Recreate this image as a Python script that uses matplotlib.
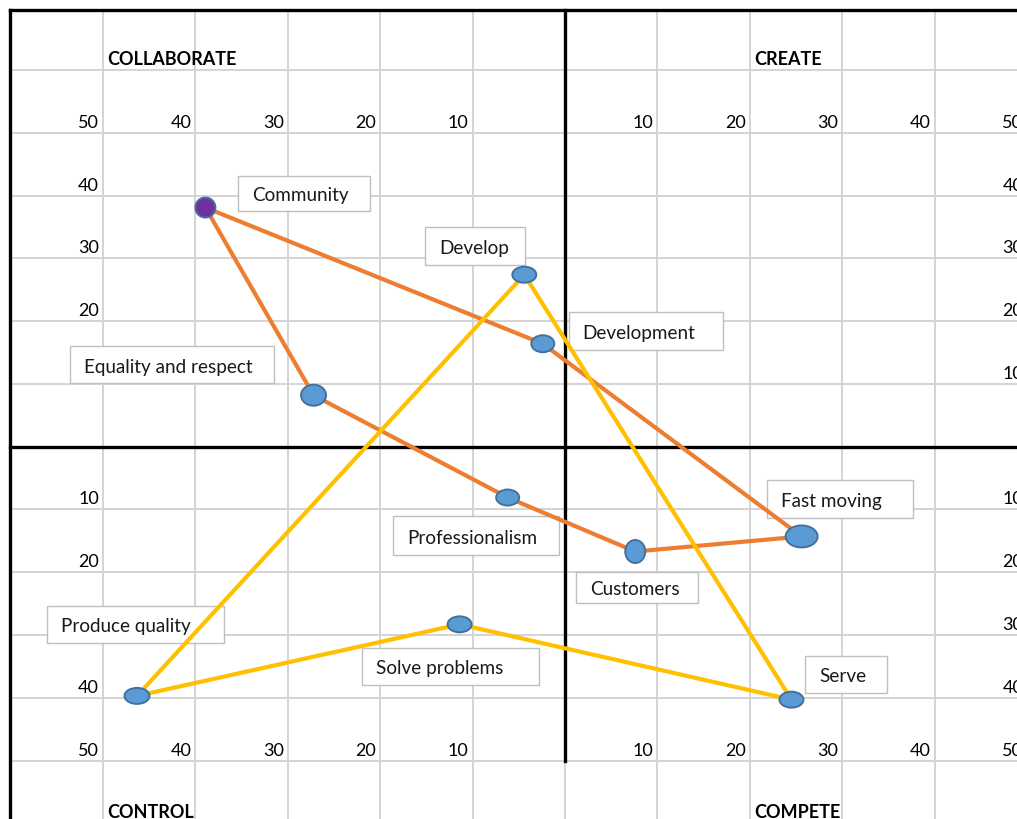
import matplotlib
matplotlib.use('Agg')
import matplotlib.pyplot as plt
from matplotlib.patches import Ellipse, Rectangle
from matplotlib.transforms import offset_copy

plt.rcParams['font.family'] = ['Lato', 'DejaVu Sans']

# --- data (units of the quadrant grid) ---
orange_names = ['Community', 'Development', 'Fast moving', 'Customers',
                'Professionalism', 'Equality and respect']
orange_x = [-38.9, -2.4, 25.6, 7.6, -6.2, -27.2]
orange_y = [38.1, 16.4, -14.3, -16.7, -8.1, 8.2]

yellow_names = ['Produce quality', 'Develop', 'Serve', 'Solve problems']
yellow_x = [-46.3, -4.4, 24.5, -11.4]
yellow_y = [-39.7, 27.4, -40.3, -28.3]

quadrants = ['COLLABORATE', 'CREATE', 'CONTROL', 'COMPETE']
tick_values = [10, 20, 30, 40, 50]

# --- layout / style ---
W, H = 1017, 820
XMIN, XMAX = -61.12, 48.90
YMIN, YMAX = -59.31, 71.32
TOP = 69.5
LEFT = -60

# marker size in pixels (width, height)
marker_px = {
    'Community': (20, 20), 'Development': (23, 17), 'Fast moving': (32, 22),
    'Customers': (20, 23), 'Professionalism': (23, 16),
    'Equality and respect': (25, 21), 'Produce quality': (25, 16),
    'Develop': (24, 16), 'Serve': (24, 16), 'Solve problems': (24, 16),
}
# label boxes (left, bottom, width, height) in chart units
label_box = {
    'Community': (-35.4, 37.6, 14.3, 5.5),
    'Develop': (-15.1, 29.0, 10.8, 6.0),
    'Development': (0.4, 15.4, 16.7, 6.0),
    'Equality and respect': (-53.6, 10.1, 22.1, 5.9),
    'Fast moving': (21.9, -11.3, 15.7, 6.0),
    'Professionalism': (-18.6, -17.2, 17.9, 6.1),
    'Customers': (1.2, -24.9, 13.2, 5.0),
    'Produce quality': (-56.0, -31.2, 19.1, 5.8),
    'Solve problems': (-22.0, -38.0, 19.2, 6.0),
    'Serve': (26.0, -39.2, 8.8, 5.9),
}
# left-hand row numbers that sit under a label box in the original
hidden_left = [10, -30]

ORANGE = '#ED7D31'
YELLOW = '#FFC000'
GRID = '#D4D4D4'

fig = plt.figure(figsize=(W / 100, H / 100), dpi=100)
ax = fig.add_axes([0, 0, 1, 1])
ax.set_xlim(XMIN, XMAX)
ax.set_ylim(YMIN, YMAX)
ax.axis('off')

sx = W / (XMAX - XMIN)   # pixels per unit
sy = H / (YMAX - YMIN)


def shifted(dx, dy):
    return offset_copy(ax.transData, fig=fig, x=dx, y=dy, units='dots')


# --- grid ---
grid_x = [-50, -40, -30, -20, -10, 0, 10, 20, 30, 40]
grid_y = [60, 50, 40, 30, 20, 10, -10, -20, -30, -40, -50]
for gx in grid_x:
    ax.plot([gx, gx], [YMIN, TOP], color=GRID, lw=1.4, zorder=1)
for gy in grid_y:
    ax.plot([LEFT, XMAX], [gy, gy], color=GRID, lw=1.4, zorder=1)

ax.plot([LEFT, XMAX], [TOP, TOP], color='black', lw=2.4, zorder=2)
ax.plot([LEFT, LEFT], [YMIN, TOP], color='black', lw=2.4, zorder=2)
ax.plot([LEFT, XMAX], [0, 0], color='black', lw=2.4, zorder=2)
ax.plot([0, 0], [-50, TOP], color='black', lw=2.4, zorder=2)

# --- axis numbers ---
num_kw = dict(fontsize=13, color='black', ha='right', va='baseline', zorder=2)
for v in tick_values:
    for row in (50, -50):
        ax.text(-v, row, str(v), transform=shifted(-4, 6), **num_kw)
        ax.text(v, row, str(v), transform=shifted(-4, 6), **num_kw)
for v in tick_values[:-1]:
    for y in (v, -v):
        if y not in hidden_left:
            ax.text(-50, y, str(v), transform=shifted(-4, 6), **num_kw)
        ax.text(50, y, str(v), transform=shifted(-4, 6), **num_kw)

# --- quadrant names ---
quad_pos = [(-50, 60), (20, 60), (-50, -60), (20, -60)]
for name, (qx, qy) in zip(quadrants, quad_pos):
    ax.text(qx, qy, name, transform=shifted(4, 6), fontsize=13,
            fontweight='bold', ha='left', va='baseline', color='black', zorder=2)

# --- label boxes ---
for name, (bx, by, bw, bh) in label_box.items():
    ax.add_patch(Rectangle((bx, by), bw, bh, facecolor='white',
                           edgecolor='#BFBFBF', lw=1.0, zorder=3))
    ax.text(bx, by + bh / 2, name, transform=shifted(14, -7), fontsize=13.6,
            ha='left', va='baseline', color='#1a1a1a', zorder=3)

# --- lines ---
ax.plot(orange_x + orange_x[:1], orange_y + orange_y[:1], color=ORANGE,
        lw=3.0, solid_joinstyle='round', zorder=4)
ax.plot(yellow_x + yellow_x[:1], yellow_y + yellow_y[:1], color=YELLOW,
        lw=3.0, solid_joinstyle='round', zorder=4)

# --- markers ---
for names, xs, ys in ((orange_names, orange_x, orange_y),
                      (yellow_names, yellow_x, yellow_y)):
    for name, x, y in zip(names, xs, ys):
        w, h = marker_px[name]
        face = '#7030A0' if name == 'Community' else '#5B9BD5'
        ax.add_patch(Ellipse((x, y), w / sx, h / sy, facecolor=face,
                             edgecolor='#41719C', lw=1.4, zorder=5))

fig.savefig('out.png', dpi=100)
